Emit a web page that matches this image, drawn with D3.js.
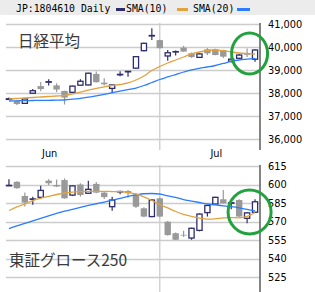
<!DOCTYPE html>
<html>
<head>
<meta charset="utf-8">
<script src="https://cdn.jsdelivr.net/npm/d3@7"></script>
<style>
  body { margin: 0; background: #fff; }
  svg { display: block; }
</style>
</head>
<body>
<div id="chart"></div>
<script>
// Trading days shown
const dates = ["06/04","06/05","06/06","06/09","06/10","06/11","06/12","06/13","06/16","06/17",
  "06/18","06/19","06/20","06/23","06/24","06/25","06/26","06/27","06/30","07/01",
  "07/02","07/03","07/04","07/07","07/08","07/09","07/10","07/11","07/14","07/15","07/16","07/17"];

// Nikkei 225
const nkOpen  = [37720,37650,37550,37990,38300,38470,38330,38090,38030,38340,38350,38830,38450,38200,38790,38920,
  39080,39840,40480,40300,39610,39790,39970,39725,39550,39900,39900,39870,39380,39510,39700,39470];
const nkHigh  = [37800,37680,37760,38170,38480,38600,38420,38100,38320,38600,38880,38930,38640,38360,38950,38960,
  39600,40180,40810,40320,39870,39850,40050,39760,39720,39950,39920,39880,39520,39700,39940,39900];
const nkLow   = [37700,37480,37530,37980,38080,38330,38040,37500,38000,38320,38340,38460,38330,37990,38730,38710,
  39060,39820,40300,39930,39400,39630,39780,39530,39520,39650,39640,39520,39330,39480,39560,39360];
const nkClose = [37750,37520,37740,38100,38170,38490,38150,37800,38300,38510,38860,38470,38380,38350,38810,38940,
  39580,40160,40500,39950,39750,39800,39800,39560,39700,39725,39650,39580,39470,39650,39660,39870];
const nkSma10 = [37739,37761,37783,37804,37826,37848,37870,37891,37957,38043,38130,38204,38270,38326,38370,38435,
  38565,38739,38978,39152,39304,39435,39565,39696,39783,39848,39870,39839,39783,39739,39717,39696];
const nkSma20 = [37652,37661,37670,37674,37678,37683,37687,37696,37730,37770,37817,37878,37943,38013,38078,38148,
  38217,38326,38457,38587,38696,38804,38913,39009,39074,39130,39196,39283,39370,39435,39470,39500];
const nkTicks = [36000,37000,38000,39000,40000,41000];

// TSE Growth 250
const grOpen  = [599.0,602.2,590.7,588.0,589.6,603.1,599.6,603.6,591.4,600.0,592.9,600.5,593.4,582.0,594.0,594.7,
  592.0,580.7,574.0,588.8,569.8,560.5,559.2,556.6,562.8,577.2,584.2,588.0,584.8,587.4,572.6,577.5];
const grHigh  = [604.2,602.6,593.6,590.0,598.9,604.2,604.0,605.0,599.3,601.0,603.0,602.0,594.5,590.0,595.0,595.5,
  593.0,581.5,588.0,589.5,570.5,561.0,562.5,565.0,576.5,583.5,590.0,595.5,587.0,588.0,577.5,588.0];
const grLow   = [598.8,596.6,582.2,583.5,589.3,599.4,598.0,588.5,590.6,590.2,592.6,593.0,588.2,578.8,592.0,589.3,
  581.0,573.5,573.5,573.5,558.5,555.0,557.5,555.2,562.0,574.0,584.0,584.5,580.0,573.5,568.5,577.0];
const grClose = [599.3,597.0,585.3,588.3,595.2,601.0,598.4,588.8,598.9,591.5,596.1,593.4,589.8,587.4,594.3,592.9,
  582.0,574.0,587.4,574.0,559.0,555.2,558.6,564.5,576.0,583.0,589.6,584.8,585.2,574.0,577.0,586.0];
const grSma10 = [578.9,581.8,584.2,587.0,588.8,590.3,591.9,593.1,593.9,594.3,594.5,594.5,594.5,594.3,594.2,593.5,
  592.3,589.9,587.0,583.8,581.0,578.1,575.7,574.1,572.8,572.0,572.2,573.0,573.2,573.0,574.1,577.3];
const grSma20 = [564.3,566.4,568.5,570.6,572.6,574.5,576.5,578.4,579.9,581.5,583.0,584.4,585.8,587.3,588.8,590.4,
  591.6,592.5,592.7,592.3,590.7,589.5,587.8,586.6,585.4,584.2,583.4,582.7,582.0,581.1,579.9,578.5];
const grTicks = [525,540,555,570,585,600,615];

const monthNames = ["Jun", "Jul"];
const monthLabelDates = ["06/11", "07/10"];
const monthStart = "07/01";

const W = 315, H = 292;
const navy = "#2d2d6b", gray = "#999", orange = "#e2a23e", blue = "#2b7cff", grid = "#cccccc";

const svg = d3.select("#chart").append("svg")
  .attr("width", W)
  .attr("height", H);

// Header bar with legend
svg.append("rect").attr("x", 0).attr("y", 0).attr("width", W).attr("height", 15).attr("fill", "#ececec");
const hdr = svg.append("g")
  .style("font-family", "'DejaVu Sans Mono', monospace")
  .style("font-size", "9.8px")
  .attr("fill", "#000");
hdr.append("text").attr("x", 16).attr("y", 11.5).text("JP:1804610 Daily");
hdr.append("rect").attr("x", 116).attr("y", 8).attr("width", 9).attr("height", 3).attr("fill", navy);
hdr.append("text").attr("x", 126).attr("y", 11.5).text("SMA(10)");
hdr.append("rect").attr("x", 177).attr("y", 8).attr("width", 11).attr("height", 3).attr("fill", orange);
hdr.append("text").attr("x", 193).attr("y", 11.5).text("SMA(20)");
hdr.append("rect").attr("x", 237).attr("y", 8).attr("width", 13).attr("height", 3).attr("fill", blue);

const x = d3.scaleBand().domain(dates).range([5, 259]).padding(0);
const xc = d => x(d) + x.bandwidth() / 2;
const axisX = 260, gridLeft = 6;

function drawPanel(cfg) {
  const y = d3.scaleLinear().domain(cfg.domain).range(cfg.range);
  const g = svg.append("g");

  // Horizontal grid
  g.selectAll(".hgrid")
    .data(cfg.ticks)
    .join("line")
    .attr("x1", gridLeft).attr("x2", axisX)
    .attr("y1", d => Math.round(y(d)) + 0.5).attr("y2", d => Math.round(y(d)) + 0.5)
    .attr("stroke", grid).attr("stroke-width", 1.3);

  // Month boundary
  g.append("line")
    .attr("x1", xc(monthStart)).attr("x2", xc(monthStart))
    .attr("y1", cfg.top).attr("y2", cfg.bottom)
    .attr("stroke", grid).attr("stroke-width", 1.3);

  // Right axis
  g.append("line")
    .attr("x1", axisX).attr("x2", axisX)
    .attr("y1", cfg.top).attr("y2", cfg.bottom)
    .attr("stroke", "#666").attr("stroke-width", 1.6);

  g.selectAll(".tick")
    .data(cfg.ticks)
    .join("text")
    .attr("x", 268)
    .attr("y", d => y(d))
    .attr("dy", "0.36em")
    .style("font-family", "'DejaVu Sans', sans-serif")
    .style("font-size", "9.8px")
    .attr("fill", "#000")
    .text(cfg.fmt);

  // Panel title
  g.append("text")
    .attr("x", cfg.labelX).attr("y", cfg.labelY)
    .style("font-family", "'Noto Sans CJK JP', sans-serif")
    .style("font-size", "15.5px")
    .attr("fill", "#3a3a3a")
    .text(cfg.label);

  const bars = dates.map((d, i) => ({
    d, o: cfg.open[i], h: cfg.high[i], l: cfg.low[i], c: cfg.close[i]
  }));

  // Wicks
  g.selectAll(".wick")
    .data(bars)
    .join("line")
    .attr("x1", b => xc(b.d)).attr("x2", b => xc(b.d))
    .attr("y1", b => y(b.h)).attr("y2", b => y(b.l))
    .attr("stroke", b => b.c >= b.o ? navy : gray)
    .attr("stroke-width", 1.2);

  // Bodies
  g.selectAll(".body")
    .data(bars)
    .join("rect")
    .attr("x", b => b.c >= b.o ? xc(b.d) - 2.6 : xc(b.d) - 3.2)
    .attr("width", b => b.c >= b.o ? 5.2 : 6.4)
    .attr("y", b => y(Math.max(b.o, b.c)))
    .attr("height", b => Math.max(0.4, Math.abs(y(b.o) - y(b.c))))
    .attr("fill", b => b.c >= b.o ? "#fff" : gray)
    .attr("stroke", b => b.c >= b.o ? navy : "none")
    .attr("stroke-width", 1.3);

  // Moving averages
  const line = d3.line().x((v, i) => xc(dates[i])).y(v => y(v)).curve(d3.curveMonotoneX);
  g.append("path").datum(cfg.sma20).attr("d", line)
    .attr("fill", "none").attr("stroke", blue).attr("stroke-width", 1.3);
  g.append("path").datum(cfg.sma10).attr("d", line)
    .attr("fill", "none").attr("stroke", orange).attr("stroke-width", 1.3);

  // Highlight ring
  g.append("ellipse")
    .attr("cx", xc(cfg.ring.date) + 2.5)
    .attr("cy", y(cfg.ring.value))
    .attr("rx", cfg.ring.rx).attr("ry", cfg.ring.ry)
    .attr("fill", "none").attr("stroke", "#22a23c").attr("stroke-width", 3);

  return y;
}

drawPanel({
  domain: [36000, 41000], range: [139, 24], top: 23, bottom: 150,
  ticks: nkTicks, fmt: d3.format(","),
  open: nkOpen, high: nkHigh, low: nkLow, close: nkClose, sma10: nkSma10, sma20: nkSma20,
  label: "日経平均", labelX: 18, labelY: 47,
  ring: { date: "07/16", value: 39720, rx: 18, ry: 20.5 }
});

drawPanel({
  domain: [525, 615], range: [277, 166], top: 165, bottom: 292,
  ticks: grTicks, fmt: d3.format("d"),
  open: grOpen, high: grHigh, low: grLow, close: grClose, sma10: grSma10, sma20: grSma20,
  label: "東証グロース250", labelX: 9, labelY: 266,
  ring: { date: "07/16", value: 577.7, rx: 21.5, ry: 22 }
});

// Month labels
svg.selectAll(".month")
  .data(monthNames)
  .join("text")
  .attr("x", (m, i) => xc(monthLabelDates[i]) + 1)
  .attr("y", 157)
  .attr("text-anchor", "middle")
  .style("font-family", "'DejaVu Sans', sans-serif")
  .style("font-size", "9.8px")
  .attr("fill", "#000")
  .text(m => m);
</script>
</body>
</html>
